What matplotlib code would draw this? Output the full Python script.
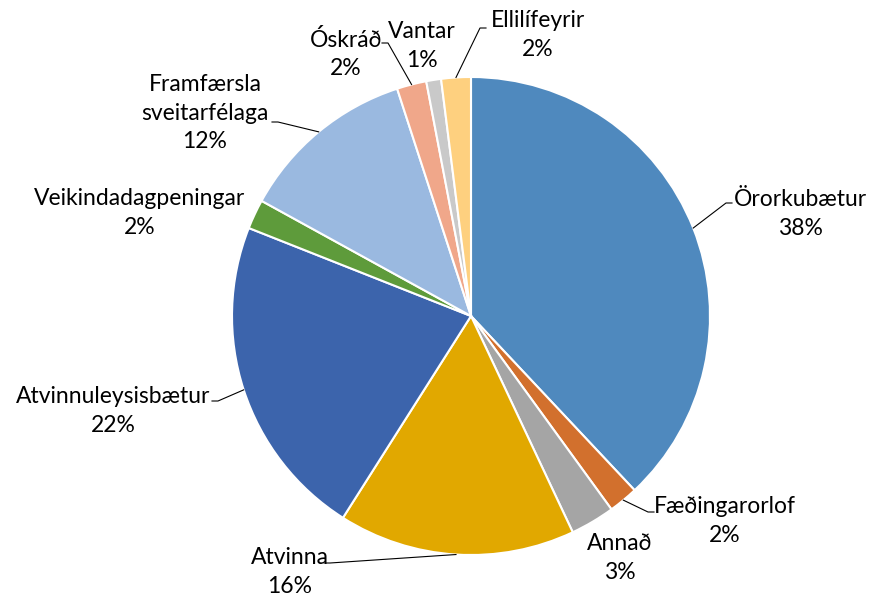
import numpy as np
import matplotlib
matplotlib.use('Agg')
import matplotlib.pyplot as plt

plt.rcParams['font.family'] = ['Lato', 'DejaVu Sans']

categories = ['Örorkubætur', 'Fæðingarorlof', 'Annað', 'Atvinna', 'Atvinnuleysisbætur',
              'Veikindadagpeningar', 'Framfærsla\nsveitarfélaga', 'Óskráð', 'Vantar', 'Ellilífeyrir']
values = [38, 2, 3, 16, 22, 2, 12, 2, 1, 2]
colors = ['#4F89BE', '#D2702D', '#A5A5A5', '#E1A800', '#3C64AC',
          '#5E9B3B', '#9AB9E0', '#F0A78A', '#C9C9C9', '#FED07F']

W, H = 873, 602
cx, cy, R = 471, 316, 239

# label block centre (pixels from top-left) and leader elbow (or None)
label_pos = [(800, 214), (725, 521), (620, 558), (290, 572), (113, 411),
             (140, 213), (205, 113), (346, 54), (422, 46), (538, 35)]
elbows = [(726, 203), (648, 512), None, (330, 563), (218, 401),
          None, (278, 122), (388, 43), None, (480, 28)]

fig = plt.figure(figsize=(W / 100, H / 100), dpi=100)
ax = fig.add_axes([0, 0, 1, 1])

wedges, _ = ax.pie(values, colors=colors, startangle=90, counterclock=False,
                   center=(cx, H - cy), radius=R,
                   wedgeprops=dict(edgecolor='white', linewidth=1.5))
ax.set_xlim(0, W)
ax.set_ylim(0, H)
ax.set_aspect('equal')
ax.axis('off')

total = sum(values)
cum = 0
for i, (name, v) in enumerate(zip(categories, values)):
    mid = np.deg2rad((cum + v / 2) / total * 360)
    cum += v
    tx, ty = label_pos[i]
    ax.text(tx, H - ty, f'{name}\n{v}%', ha='center', va='center', fontsize=16.5,
            linespacing=1.45, color='black')
    if elbows[i] is not None:
        px = cx + R * np.sin(mid)
        py = cy - R * np.cos(mid)
        ex, ey = elbows[i]
        side = 1 if ex > px else -1
        xs = [px, ex, ex + 6 * side]
        ys = [py, ey, ey]
        ax.plot(xs, [H - y for y in ys], color='black', linewidth=0.8)

fig.savefig('out.png', dpi=100)
